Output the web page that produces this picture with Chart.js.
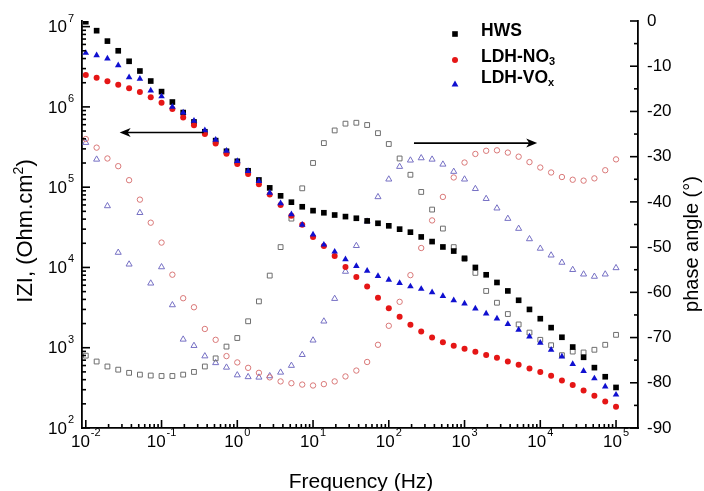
<!DOCTYPE html>
<html>
<head>
<meta charset="utf-8">
<script src="https://cdn.jsdelivr.net/npm/chart.js@4.4.1/dist/chart.umd.min.js"></script>
<style>
  html, body { margin: 0; padding: 0; background: #fff; }
  #wrap { width: 704px; height: 491px; position: relative; }
</style>
</head>
<body>
<div id="wrap"><canvas id="bode"></canvas></div>
<script>
// EIS Bode plot: |Z| (filled, left log axis) and phase angle (open, right axis)

const freq = [0.01, 0.0139, 0.0193, 0.0268, 0.0373, 0.0518, 0.072,
  0.1, 0.139, 0.193, 0.268, 0.373, 0.518, 0.72,
  1, 1.39, 1.93, 2.68, 3.73, 5.18, 7.2,
  10, 13.9, 19.3, 26.8, 37.3, 51.8, 72,
  100, 139, 193, 268, 373, 518, 720,
  1000, 1390, 1930, 2680, 3730, 5180, 7200,
  10000, 13900, 19300, 26800, 37300, 51800, 72000, 100000];

const zHWS = [1.15e7, 8.9e6, 6.6e6, 5.0e6, 3.7e6, 2.8e6, 2.1e6, 1.55e6, 1.15e6, 8.5e5,
  6.5e5, 4.9e5, 3.8e5, 2.8e5, 2.1e5, 1.6e5, 1.23e5, 9.8e4, 7.8e4, 6.5e4,
  5.7e4, 5.1e4, 4.8e4, 4.5e4, 4.3e4, 4.1e4, 3.8e4, 3.55e4, 3.3e4, 3.0e4,
  2.75e4, 2.4e4, 2.1e4, 1.8e4, 1.6e4, 1.3e4, 1.0e4, 8.1e3, 6.5e3, 5.1e3,
  3.9e3, 3.0e3, 2.3e3, 1.78e3, 1.35e3, 1.02e3, 760, 565, 435, 320];

const zNO3 = [2.5e6, 2.3e6, 2.09e6, 1.89e6, 1.71e6, 1.53e6, 1.32e6, 1.13e6, 9.4e5, 7.4e5,
  5.9e5, 4.6e5, 3.5e5, 2.6e5, 1.95e5, 1.46e5, 1.09e5, 8.1e4, 6.0e4, 4.4e4,
  3.4e4, 2.4e4, 1.85e4, 1.39e4, 1.01e4, 7.6e3, 5.8e3, 4.2e3, 3.1e3, 2.44e3,
  1.93e3, 1.59e3, 1.34e3, 1.17e3, 1.06e3, 970, 890, 810, 750, 673,
  612, 551, 497, 447, 391, 343, 294, 252, 214, 184];

const zVOx = [4.7e6, 4.4e6, 4.0e6, 3.3e6, 2.33e6, 2.24e6, 1.6e6, 1.35e6, 1.0e6, 8.5e5,
  6.7e5, 5.1e5, 3.9e5, 2.84e5, 2.11e5, 1.59e5, 1.19e5, 8.5e4, 6.3e4, 4.6e4,
  3.4e4, 2.57e4, 1.92e4, 1.57e4, 1.26e4, 1.04e4, 9.1e3, 7.8e3, 7.0e3, 6.4e3,
  5.8e3, 5.4e3, 4.9e3, 4.4e3, 3.9e3, 3.55e3, 3.07e3, 2.66e3, 2.31e3, 1.97e3,
  1.67e3, 1.38e3, 1.15e3, 940, 778, 625, 512, 414, 329, 260];

const phHWS = [-74.0, -75.3, -76.4, -77.1, -77.8, -78.2, -78.4, -78.5, -78.5, -78.2,
  -77.6, -76.4, -74.6, -72.0, -70.1, -66.4, -62.0, -56.3, -50.0, -43.7,
  -37.0, -31.4, -27.0, -24.2, -22.7, -22.5, -23.0, -24.8, -27.2, -30.4,
  -34.0, -37.8, -41.7, -45.9, -50.0, -52.6, -55.7, -59.7, -62.3, -64.8,
  -67.1, -68.9, -70.5, -71.7, -73.9, -73.1, -73.3, -72.7, -71.6, -69.4];

const phNO3 = [-26.1, -28.0, -30.4, -32.1, -35.2, -39.5, -44.6, -49.0, -56.1, -61.3,
  -63.3, -68.1, -70.5, -74.1, -75.5, -76.7, -77.8, -78.8, -79.7, -80.1,
  -80.4, -80.6, -80.3, -79.7, -78.6, -77.3, -75.4, -71.6, -67.4, -62.1,
  -56.2, -50.2, -44.1, -38.9, -34.6, -31.3, -29.4, -28.7, -28.6, -29.1,
  -30.0, -31.2, -32.4, -33.5, -34.5, -35.1, -35.3, -34.8, -33.0, -30.6];

const phVOx = [-26.9, -30.6, -40.9, -51.2, -53.8, -42.4, -58.0, -54.4, -62.8, -70.4,
  -71.8, -74.1, -75.6, -76.6, -78.3, -78.7, -78.8, -78.5, -77.7, -76.2,
  -73.8, -70.6, -66.4, -61.4, -55.4, -49.7, -44.3, -38.9, -35.0, -32.2,
  -30.8, -30.3, -30.6, -31.7, -33.3, -35.0, -37.1, -39.3, -41.4, -43.7,
  -45.9, -48.2, -50.3, -51.8, -53.4, -55.0, -56.0, -56.5, -56.0, -54.6];

// tick positions
const xDecades = [-2, -1, 0, 1, 2, 3, 4, 5];
const zDecades = [2, 3, 4, 5, 6, 7];
const phaseTicks = [0, -10, -20, -30, -40, -50, -60, -70, -80, -90];

// the two arrows pointing at each axis (data space)
const arrowZ = { fromF: 0.36, toF: 0.028, z: 4.8e5 };
const arrowPh = { fromF: 215, toF: 9100, ph: -27 };

const FONT = "'Liberation Sans', Arial, sans-serif";

function pts(ys) {
  return freq.map((f, i) => ({ x: f, y: ys[i] }));
}

// draws "10" with a superscript exponent; align = 'center' | 'right'
function drawPow(ctx, exp, x, y, align) {
  ctx.font = "17px " + FONT;
  const wb = ctx.measureText("10").width;
  ctx.font = "11px " + FONT;
  const we = ctx.measureText(String(exp)).width;
  const total = wb + we + 1;
  let x0 = align === "center" ? x - total / 2 : x - total;
  ctx.textAlign = "left";
  ctx.textBaseline = "middle";
  ctx.font = "17px " + FONT;
  ctx.fillText("10", x0, y);
  ctx.font = "11px " + FONT;
  ctx.fillText(String(exp), x0 + wb + 1, y - 9);
}

function drawArrow(ctx, x1, y, x2) {
  const dir = x2 > x1 ? 1 : -1;
  ctx.beginPath();
  ctx.moveTo(x1, y);
  ctx.lineTo(x2 - dir * 6, y);
  ctx.stroke();
  ctx.beginPath();
  ctx.moveTo(x2, y);
  ctx.lineTo(x2 - dir * 11, y - 4.5);
  ctx.lineTo(x2 - dir * 8, y);
  ctx.lineTo(x2 - dir * 11, y + 4.5);
  ctx.closePath();
  ctx.fill();
}

const decor = {
  id: "decor",
  afterDraw(chart) {
    const ctx = chart.ctx;
    const { left, right, top, bottom } = chart.chartArea;
    const sx = chart.scales.x, sy = chart.scales.y, sp = chart.scales.y2;
    ctx.save();
    ctx.strokeStyle = "#000";
    ctx.fillStyle = "#000";
    ctx.lineWidth = 1.6;

    const seg = (a, b, c, d) => { ctx.beginPath(); ctx.moveTo(a, b); ctx.lineTo(c, d); ctx.stroke(); };

    // frequency axis ticks + labels
    xDecades.forEach(e => {
      for (let m = 1; m <= 9; m++) {
        const v = m * Math.pow(10, e);
        if (v < sx.min || v > sx.max) continue;
        const px = sx.getPixelForValue(v);
        seg(px, bottom, px, bottom - (m === 1 ? 8 : 4));
      }
      drawPow(ctx, e, sx.getPixelForValue(Math.pow(10, e)), bottom + 14, "center");
    });

    // |Z| axis
    zDecades.forEach(e => {
      for (let m = 1; m <= 9; m++) {
        const v = m * Math.pow(10, e);
        if (v < sy.min || v > sy.max) continue;
        const py = sy.getPixelForValue(v);
        seg(left, py, left + (m === 1 ? 8 : 4), py);
      }
      drawPow(ctx, e, 74, sy.getPixelForValue(Math.pow(10, e)) + 1, "right");
    });

    // phase axis
    for (let p = 0; p >= -90; p -= 5) {
      const py = sp.getPixelForValue(p);
      seg(right, py, right - (p % 10 === 0 ? 8 : 4), py);
    }
    ctx.font = "17px " + FONT;
    ctx.textAlign = "left";
    ctx.textBaseline = "middle";
    phaseTicks.forEach(p => ctx.fillText(String(p), 647, sp.getPixelForValue(p)));

    // axis titles
    ctx.font = "21px " + FONT;
    ctx.textAlign = "center";
    ctx.textBaseline = "alphabetic";
    ctx.fillText("Frequency (Hz)", 361, 488);

    ctx.save();
    ctx.translate(32, 231);
    ctx.rotate(-Math.PI / 2);
    const t1 = "IZI, (Ohm.cm", t2 = ")";
    ctx.font = "22px " + FONT;
    const w1 = ctx.measureText(t1).width, w3 = ctx.measureText(t2).width;
    ctx.font = "14px " + FONT;
    const w2 = ctx.measureText("2").width;
    let sx0 = -(w1 + w2 + w3) / 2;
    ctx.textAlign = "left";
    ctx.font = "22px " + FONT;
    ctx.fillText(t1, sx0, 0);
    ctx.font = "14px " + FONT;
    ctx.fillText("2", sx0 + w1, -9);
    ctx.font = "22px " + FONT;
    ctx.fillText(t2, sx0 + w1 + w2, 0);
    ctx.restore();

    ctx.save();
    ctx.translate(698, 244);
    ctx.rotate(-Math.PI / 2);
    ctx.textAlign = "center";
    ctx.font = "20px " + FONT;
    ctx.fillText("phase angle (\u00B0)", 0, 0);
    ctx.restore();

    // arrows
    ctx.lineWidth = 1.6;
    drawArrow(ctx, sx.getPixelForValue(arrowZ.fromF), sy.getPixelForValue(arrowZ.z), sx.getPixelForValue(arrowZ.toF));
    drawArrow(ctx, sx.getPixelForValue(arrowPh.fromF), sp.getPixelForValue(arrowPh.ph), sx.getPixelForValue(arrowPh.toF));

    // legend
    const lx = 455, tx = 481;
    ctx.fillStyle = "#000";
    ctx.fillRect(lx - 2.8, 34 - 2.8, 5.6, 5.6);
    ctx.fillStyle = "#e51616";
    ctx.beginPath(); ctx.arc(lx, 60, 3, 0, Math.PI * 2); ctx.fill();
    ctx.fillStyle = "#1010d0";
    ctx.beginPath(); ctx.moveTo(lx, 80.5); ctx.lineTo(lx + 3.4, 86.5); ctx.lineTo(lx - 3.4, 86.5); ctx.closePath(); ctx.fill();

    ctx.fillStyle = "#000";
    ctx.textAlign = "left";
    ctx.textBaseline = "middle";
    ctx.font = "bold 17.5px " + FONT;
    ctx.fillText("HWS", tx, 31);
    ctx.fillText("LDH-NO", tx, 57);
    const wn = ctx.measureText("LDH-NO").width;
    ctx.fillText("LDH-VO", tx, 78);
    const wv = ctx.measureText("LDH-VO").width;
    ctx.font = "bold 11px " + FONT;
    ctx.fillText("3", tx + wn, 62);
    ctx.fillText("x", tx + wv, 83);

    ctx.restore();
  }
};

const filled = (label, data, style, color, r) => ({
  label, data: pts(data), yAxisID: "y", showLine: false,
  pointStyle: style, pointRadius: r, pointHoverRadius: r,
  pointBackgroundColor: color, pointBorderColor: color, pointBorderWidth: 0
});

const open = (label, data, style, color, r) => ({
  label, data: pts(data), yAxisID: "y2", showLine: false,
  pointStyle: style, pointRadius: r, pointHoverRadius: r,
  pointBackgroundColor: "rgba(255,255,255,0)", pointBorderColor: color, pointBorderWidth: 1
});

new Chart(document.getElementById("bode"), {
  type: "scatter",
  data: {
    datasets: [
      filled("LDH-VOx", zVOx, "triangle", "#1010d0", 3.8),
      filled("LDH-NO3", zNO3, "circle", "#e51616", 3),
      filled("HWS", zHWS, "rect", "#000000", 4),
      open("HWS phase", phHWS, "rect", "#6e6e6e", 3.4),
      open("LDH-NO3 phase", phNO3, "circle", "#d97878", 2.7),
      open("LDH-VOx phase", phVOx, "triangle", "#7670c4", 3.5)
    ]
  },
  options: {
    responsive: true,
    maintainAspectRatio: false,
    animation: false,
    layout: { padding: { top: 21, left: 0, right: 0, bottom: 0 } },
    plugins: { legend: { display: false }, tooltip: { enabled: false } },
    scales: {
      x: {
        type: "logarithmic", position: "bottom",
        min: 0.00891, max: 195000,
        grid: { display: false, drawTicks: false },
        border: { display: true, color: "#000", width: 1.8 },
        ticks: { display: false },
        afterFit: s => { s.height = 63; }
      },
      y: {
        type: "logarithmic", position: "left",
        min: 100, max: 1.175e7,
        grid: { display: false, drawTicks: false },
        border: { display: true, color: "#000", width: 1.8 },
        ticks: { display: false },
        afterFit: s => { s.width = 82; }
      },
      y2: {
        type: "linear", position: "right",
        min: -90, max: 0,
        grid: { display: false, drawTicks: false },
        border: { display: true, color: "#000", width: 1.8 },
        ticks: { display: false },
        afterFit: s => { s.width = 66; }
      }
    }
  },
  plugins: [decor]
});
</script>
</body>
</html>
